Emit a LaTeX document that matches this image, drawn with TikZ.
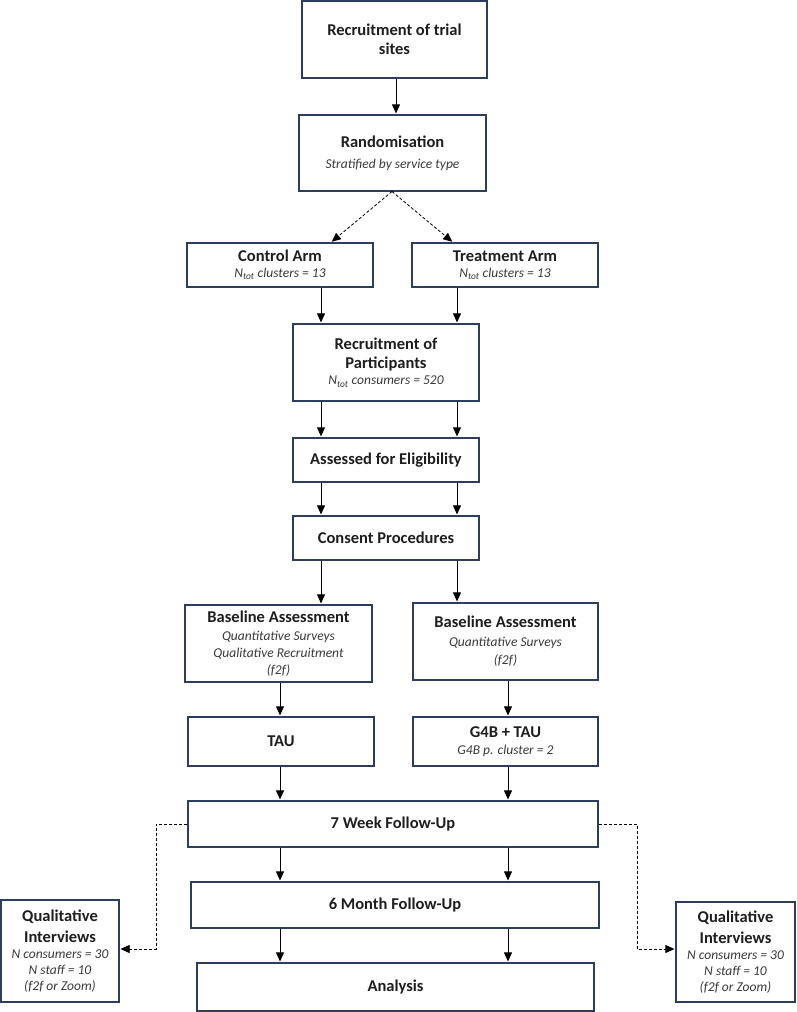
\documentclass[tikz,border=0pt]{standalone}
\usepackage{fontspec}
\setmainfont{Carlito}
\usetikzlibrary{arrows.meta}
\definecolor{boxc}{HTML}{2F3D5C}
\definecolor{txt}{HTML}{1E1E1E}
\definecolor{subc}{HTML}{3A3A3A}
\newcommand\ttl{\fontsize{16.5}{19.5}\selectfont\bfseries}
\newcommand\subt{\fontsize{13.5}{16.5}\selectfont\mdseries\itshape\color{subc}}
\tikzset{
  box/.style={draw=boxc, line width=1.2pt, inner sep=0pt, align=center, text=txt, fill=white, font=\ttl},
  arr/.style={-{Triangle[width=8pt,length=9pt]}, line width=0.8pt, shorten >=1pt},
  darr/.style={arr, dashed, dash pattern=on 3pt off 2pt}
}
\begin{document}
\begin{tikzpicture}[x=1pt,y=1pt]
\useasboundingbox (0,0) rectangle (797,-1012);
% nodes
\node[box, minimum width=185, minimum height=77] (trial) at (394.5,-39.5) {Recruitment of trial\\sites};
\node[box, minimum width=187, minimum height=76] (rand) at (392.5,-153) {Randomisation\\[1.5pt]\subt Stratified by service type};
\node[box, minimum width=186, minimum height=44] (control) at (280,-265) {Control Arm\\[-3.5pt]\subt N\textsubscript{tot} clusters = 13};
\node[box, minimum width=186, minimum height=44] (treat) at (505,-265) {Treatment Arm\\[-3.5pt]\subt N\textsubscript{tot} clusters = 13};
\node[box, minimum width=186, minimum height=77] (recpart) at (386,-362.5) {Recruitment of\\Participants\\[-3.5pt]\subt N\textsubscript{tot} consumers = 520};
\node[box, minimum width=186, minimum height=44] (elig) at (386,-460) {Assessed for Eligibility};
\node[box, minimum width=186, minimum height=44] (consent) at (386,-538) {Consent Procedures};
\node[box, minimum width=187, minimum height=77] (baseL) at (278.5,-643.5) {Baseline Assessment\\[-2pt]\subt Quantitative Surveys\\[-2.5pt]\subt Qualitative Recruitment\\[-2.5pt]\subt (f2f)};
\node[box, minimum width=185, minimum height=77] (baseR) at (505.5,-641.5) {Baseline Assessment\\[-1pt]\subt Quantitative Surveys\\[-1pt]\subt (f2f)};
\node[box, minimum width=186, minimum height=49] (tau) at (281,-741.5) {TAU};
\node[box, minimum width=185, minimum height=49] (g4b) at (505.5,-741.5) {G4B + TAU\\[-2pt]\subt G4B p. cluster = 2};
\node[box, minimum width=410, minimum height=46] (week7) at (393,-824) {7 Week Follow-Up};
\node[box, minimum width=408, minimum height=46] (month6) at (395,-905) {6 Month Follow-Up};
\node[box, minimum width=397, minimum height=48] (analysis) at (395.5,-987) {Analysis};
\node[box, minimum width=118, minimum height=102] (qL) at (60,-951) {Qualitative\\[2pt]Interviews\\[-3.5pt]\subt N consumers = 30\\[-3.5pt]\subt N staff = 10\\[-3.5pt]\subt (f2f or Zoom)};
\node[box, minimum width=119, minimum height=100] (qR) at (735.5,-952) {Qualitative\\[2pt]Interviews\\[-3.5pt]\subt N consumers = 30\\[-3.5pt]\subt N staff = 10\\[-3.5pt]\subt (f2f or Zoom)};
% helper x positions
\coordinate (xt) at (396,0);
\coordinate (xa) at (321,0);
\coordinate (xb) at (457,0);
\coordinate (xc) at (280,0);
\coordinate (xd) at (508,0);
\coordinate (rs) at (392,-191.5);
\coordinate (cL) at (331,0);
\coordinate (cR) at (453,0);
\coordinate (dL) at (156,-824);
\coordinate (dLb) at (156,-949);
\coordinate (dR) at (637,-824);
\coordinate (dRb) at (637,-949);
% connectors
\draw[arr] (trial.south -| xt) -- (rand.north -| xt);
\draw[darr] (rs) -- (control.north -| cL);
\draw[darr] (rs) -- (treat.north -| cR);
\draw[arr] (control.south -| xa) -- (recpart.north -| xa);
\draw[arr] (treat.south -| xb) -- (recpart.north -| xb);
\draw[arr] (recpart.south -| xa) -- (elig.north -| xa);
\draw[arr] (recpart.south -| xb) -- (elig.north -| xb);
\draw[arr] (elig.south -| xa) -- (consent.north -| xa);
\draw[arr] (elig.south -| xb) -- (consent.north -| xb);
\draw[arr] (consent.south -| xa) -- (baseL.north -| xa);
\draw[arr] (consent.south -| xb) -- (baseR.north -| xb);
\draw[arr] (baseL.south -| xc) -- (tau.north -| xc);
\draw[arr] (baseR.south -| xd) -- (g4b.north -| xd);
\draw[arr] (tau.south -| xc) -- (week7.north -| xc);
\draw[arr] (g4b.south -| xd) -- (week7.north -| xd);
\draw[arr] (week7.south -| xc) -- (month6.north -| xc);
\draw[arr] (week7.south -| xd) -- (month6.north -| xd);
\draw[arr] (month6.south -| xc) -- (analysis.north -| xc);
\draw[arr] (month6.south -| xd) -- (analysis.north -| xd);
\draw[darr, line width=0.7pt] (week7.west) -- (dL) -- (dLb) -- (qL.east |- dLb);
\draw[darr, line width=0.7pt] (week7.east) -- (dR) -- (dRb) -- (qR.west |- dRb);
\end{tikzpicture}
\end{document}
